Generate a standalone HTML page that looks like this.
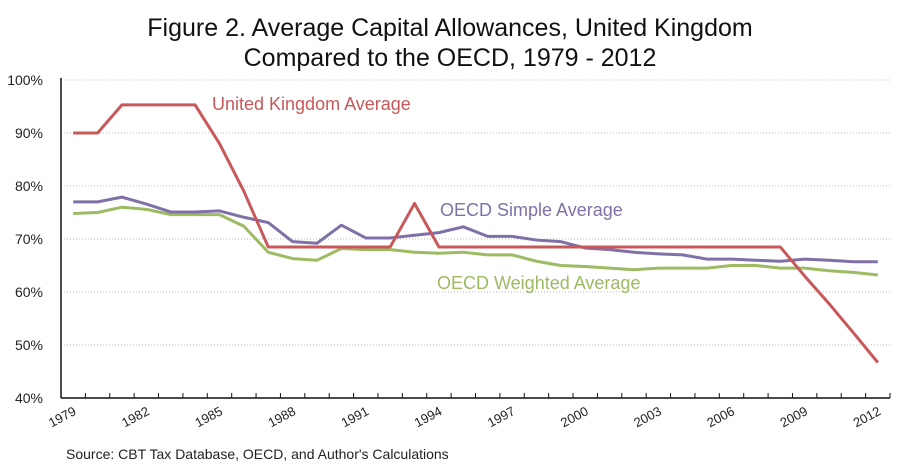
<!DOCTYPE html>
<html><head><meta charset="utf-8"><style>
body{margin:0;background:#fff;font-family:"Liberation Sans",sans-serif}
svg{display:block}
</style></head><body>
<svg width="900" height="467" viewBox="0 0 900 467" id="chart">
<text x="450" y="36" text-anchor="middle" font-size="25" fill="#111">Figure 2. Average Capital Allowances, United Kingdom</text>
<text x="450" y="66" text-anchor="middle" font-size="25" fill="#111">Compared to the OECD, 1979 - 2012</text>
<g id="grid"></g><g id="axes"></g><g id="series"></g>
<text x="212" y="110" font-size="18" fill="#c9585a">United Kingdom Average</text>
<text x="440" y="216" font-size="18" fill="#8070a8">OECD Simple Average</text>
<text x="437" y="289" font-size="18" fill="#9dbb62">OECD Weighted Average</text>
<text x="66" y="459" font-size="14" fill="#222">Source:  CBT Tax Database, OECD, and Author's Calculations</text>
</svg>
<script>
const years=[];for(let y=1979;y<=2012;y++)years.push(y);
const yTicks=[40,50,60,70,80,90,100];
const ukSeries=[90,90,95.3,95.3,95.3,95.3,88,79,68.5,68.5,68.5,68.5,68.5,68.5,76.7,68.5,68.5,68.5,68.5,68.5,68.5,68.5,68.5,68.5,68.5,68.5,68.5,68.5,68.5,68.5,63,57.8,52.3,46.7];
const simpleSeries=[77,77,77.9,76.6,75.1,75.1,75.3,74.1,73.1,69.5,69.2,72.6,70.2,70.2,70.7,71.2,72.3,70.5,70.5,69.8,69.5,68.3,68,67.5,67.2,67,66.2,66.2,66,65.8,66.2,66,65.7,65.7];
const weightedSeries=[74.8,75,76,75.6,74.6,74.6,74.6,72.4,67.5,66.3,66,68.2,68,68,67.5,67.3,67.5,67,67,65.8,65,64.8,64.5,64.2,64.5,64.5,64.5,65,65,64.5,64.5,64,63.7,63.2];
const NS="http://www.w3.org/2000/svg";
const L=61,R=890,T=80,B=398,band=(R-L)/years.length;
const xs=i=>L+band*(i+0.5);
const ys=v=>B-(v-40)/60*(B-T);
function mk(t,a,p){const e=document.createElementNS(NS,t);for(const k in a)e.setAttribute(k,a[k]);p.appendChild(e);return e;}
const grid=document.getElementById('grid'),axes=document.getElementById('axes'),ser=document.getElementById('series');
yTicks.forEach(v=>{
 if(v>40){const g=mk('line',{x1:L,x2:R,y1:ys(v),y2:ys(v),stroke:'#bbb','stroke-dasharray':'1,2'},grid);
 
 }
 const t=mk('text',{x:L-18,y:ys(v)+5,'text-anchor':'end','font-size':14,fill:'#222'},axes);
 t.textContent=v+'%';
 
 
});
const ya=mk('line',{x1:L,x2:L,y1:T-2,y2:B,stroke:'#111','stroke-width':1.5},axes);


const xa=mk('line',{x1:L,x2:R,y1:B,y2:B,stroke:'#111','stroke-width':1.5},axes);


for(let i=1;i<=years.length;i++){const tk=mk('line',{x1:L+band*i,x2:L+band*i,y1:B,y2:B-5,stroke:'#111'},axes);
 
 }
years.forEach((y,i)=>{if((y-1979)%3)return;
 const x=xs(i)+4,yy=B+16;
 const t=mk('text',{x:x,y:yy,'text-anchor':'end','font-size':13,fill:'#222',transform:`rotate(-28 ${x} ${yy})`},axes);
 t.textContent=y;
 
 
});
[[weightedSeries,'#9dbb62','oecd-weighted-line'],[simpleSeries,'#8070a8','oecd-simple-line'],[ukSeries,'#c9585a','uk-line']].forEach(([d,c,n])=>{
 const p=mk('polyline',{points:d.map((v,i)=>xs(i)+','+ys(v)).join(' '),fill:'none',stroke:c,'stroke-width':3,'stroke-linejoin':'round'},ser);
 
 
});
</script>
</body></html>
